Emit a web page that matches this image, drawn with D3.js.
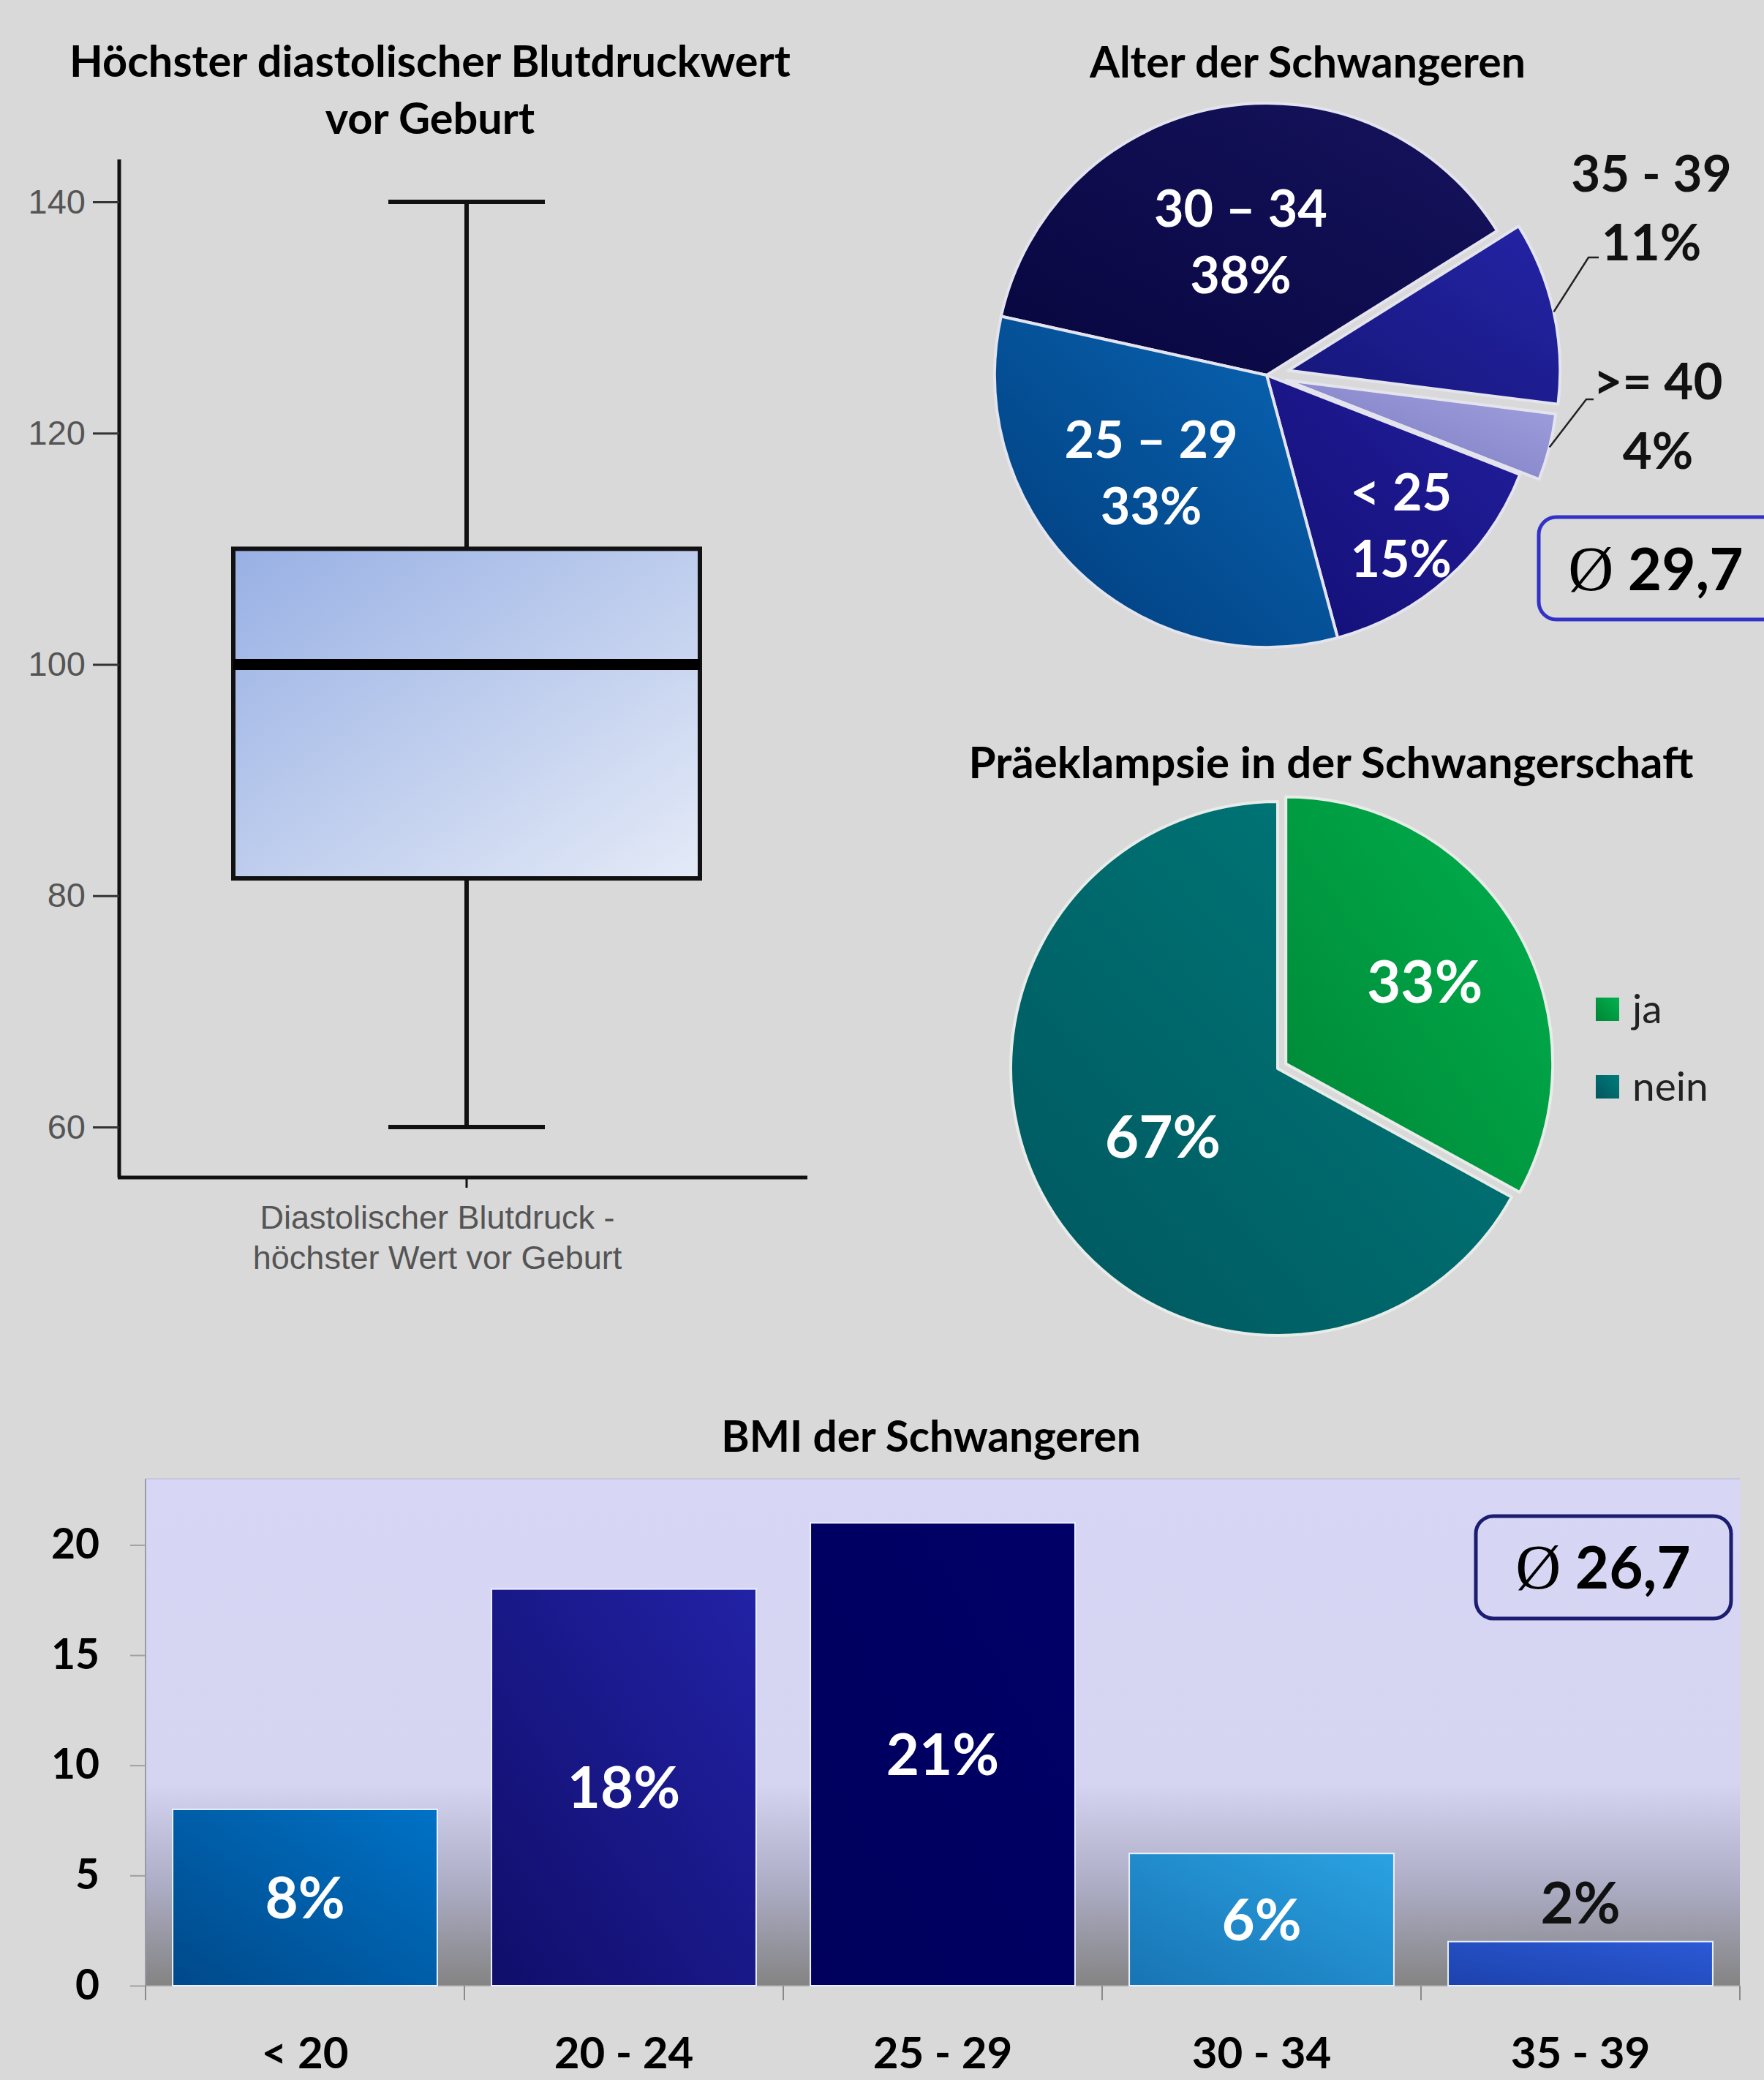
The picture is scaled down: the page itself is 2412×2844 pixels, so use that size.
<!DOCTYPE html>
<html>
<head>
<meta charset="utf-8">
<script src="https://cdn.jsdelivr.net/npm/d3@7"></script>
<style>
  body { margin: 0; background: #d9d9d9; }
  svg { display: block; }
</style>
</head>
<body>
<svg id="chart" width="2412" height="2844"></svg>
<script>
// ---- data ----
const bpTicks = [60, 80, 100, 120, 140];
const bpSummary = [60, 81.5, 100, 110, 140]; // min, q1, median, q3, max

const ageLabels = ['30 – 34', '35 - 39', '>= 40', '< 25', '25 – 29'];
const agePct = [38, 11, 4, 15, 33];
const ageMean = '29,7';

const preLabels = ['ja', 'nein'];
const prePct = [33, 67];

const bmiCats = ['< 20', '20 - 24', '25 - 29', '30 - 34', '35 - 39'];
const bmiCounts = [8, 18, 21, 6, 2];
const bmiPctLabels = ['8%', '18%', '21%', '6%', '2%'];
const bmiTicks = [0, 5, 10, 15, 20];
const bmiMean = '26,7';

// ---- setup ----
const svg = d3.select('#chart');
const defs = svg.append('defs');
const TITLE_FONT = 'Lato, "Open Sans", sans-serif';

svg.append('rect').attr('width', 2412).attr('height', 2844).attr('fill', '#d9d9d9');

// diagonal gradient helper (dark lower-left -> light upper-right)
function diagGrad (id, c0, c1, dir) {
  const g = defs.append('linearGradient').attr('id', id);
  if (dir === 'tlbr') g.attr('x1', 0).attr('y1', 0).attr('x2', 1).attr('y2', 1);
  else g.attr('x1', 0).attr('y1', 1).attr('x2', 1).attr('y2', 0);
  g.append('stop').attr('offset', '0%').attr('stop-color', c0);
  g.append('stop').attr('offset', '100%').attr('stop-color', c1);
  return 'url(#' + id + ')';
}

function title (txt, x, y, size) {
  svg.append('text')
    .attr('x', x).attr('y', y)
    .attr('text-anchor', 'middle')
    .attr('font-family', TITLE_FONT)
    .attr('font-weight', 700)
    .attr('font-size', size)
    .attr('fill', '#000')
    .text(txt);
}

// ============ box plot ============
title('Höchster diastolischer Blutdruckwert', 588, 105, 59.5);
title('vor Geburt', 588, 183, 59.5);

const bpX0 = 163, bpX1 = 1104, bpTop = 218, bpBottom = 1610;
const yBp = d3.scaleLinear().domain([60, 140]).range([1541, 276]);
const bpG = svg.append('g');

// axes
bpG.append('line').attr('x1', bpX0).attr('x2', bpX0).attr('y1', bpTop).attr('y2', bpBottom)
  .attr('stroke', '#111').attr('stroke-width', 5);
bpG.append('line').attr('x1', bpX0 - 2).attr('x2', bpX1).attr('y1', bpBottom).attr('y2', bpBottom)
  .attr('stroke', '#111').attr('stroke-width', 5);

const bpAxis = bpG.append('g').attr('transform', `translate(${bpX0},0)`)
  .call(d3.axisLeft(yBp).tickValues(bpTicks).tickSize(36).tickPadding(10));
bpAxis.select('.domain').remove();
bpAxis.selectAll('.tick line').attr('stroke', '#333').attr('stroke-width', 3);
bpAxis.selectAll('.tick text')
  .attr('font-family', '"Liberation Sans", Arial, sans-serif')
  .attr('font-size', 47).attr('fill', '#555');

const bpCx = 638, boxHalf = 319, capHalf = 107;
const boxFill = diagGrad('boxGrad', '#98b0e4', '#e4eaf7', 'tlbr');
const [bMin, bQ1, bMed, bQ3, bMax] = bpSummary;

bpG.append('line').attr('x1', bpCx).attr('x2', bpCx).attr('y1', yBp(bMax)).attr('y2', yBp(bQ3))
  .attr('stroke', '#111').attr('stroke-width', 6);
bpG.append('line').attr('x1', bpCx).attr('x2', bpCx).attr('y1', yBp(bQ1)).attr('y2', yBp(bMin))
  .attr('stroke', '#111').attr('stroke-width', 6);
[bMin, bMax].forEach(v => {
  bpG.append('line').attr('x1', bpCx - capHalf).attr('x2', bpCx + capHalf)
    .attr('y1', yBp(v)).attr('y2', yBp(v))
    .attr('stroke', '#111').attr('stroke-width', 6);
});
bpG.append('rect')
  .attr('x', bpCx - boxHalf).attr('width', boxHalf * 2)
  .attr('y', yBp(bQ3)).attr('height', yBp(bQ1) - yBp(bQ3))
  .attr('fill', boxFill).attr('stroke', '#111').attr('stroke-width', 6);
bpG.append('line').attr('x1', bpCx - boxHalf).attr('x2', bpCx + boxHalf)
  .attr('y1', yBp(bMed)).attr('y2', yBp(bMed))
  .attr('stroke', '#000').attr('stroke-width', 15);
bpG.append('line').attr('x1', bpCx).attr('x2', bpCx).attr('y1', bpBottom).attr('y2', bpBottom + 14)
  .attr('stroke', '#111').attr('stroke-width', 3);

const bpLab = bpG.append('text').attr('text-anchor', 'middle')
  .attr('font-family', '"Liberation Sans", Arial, sans-serif')
  .attr('font-size', 45).attr('fill', '#555');
bpLab.append('tspan').attr('x', 598).attr('y', 1680).text('Diastolischer Blutdruck -');
bpLab.append('tspan').attr('x', 598).attr('y', 1735).text('höchster Wert vor Geburt');

// ============ pie: Alter ============
title('Alter der Schwangeren', 1788, 106, 59);

const ageCx = 1732, ageCy = 513, ageR = 372;
const ageColors = [
  ['#07063e', '#16135e'],
  ['#16167a', '#2424a6'],
  ['#7474bc', '#a4a4e2'],
  ['#130f76', '#221e9c'],
  ['#003c7a', '#0a66b6']
];
const ageExplode = [0, 30, 27, 0, 0];
// label placement (layout only)
const ageLabelR = [0.5, null, null, 0.74, 0.56];
const ageLabelShift = [[-4, 0], null, null, [0, 0], [-14, -18]];
const ageOuter = {
  1: { elbow: [440, -161], end: [454, -161], tx: 526, ty1: 262, ty2: 356 },
  2: { elbow: [437, 33], end: [447, 33], tx: 535, ty1: 546, ty2: 641 }
};

const agePie = d3.pie().sort(null)
  .startAngle(-77.5 * Math.PI / 180)
  .endAngle(-77.5 * Math.PI / 180 + 2 * Math.PI);
const ageArcs = agePie(agePct);
const ageArc = d3.arc().innerRadius(0).outerRadius(ageR);
const ageG = svg.append('g').attr('transform', `translate(${ageCx},${ageCy})`);

ageArcs.forEach((a, i) => {
  const mid = (a.startAngle + a.endAngle) / 2;
  const ox = Math.sin(mid) * ageExplode[i];
  const oy = -Math.cos(mid) * ageExplode[i];
  const fill = diagGrad('ageGrad' + i, ageColors[i][0], ageColors[i][1]);
  ageG.append('path')
    .attr('d', ageArc(a))
    .attr('transform', `translate(${ox},${oy})`)
    .attr('fill', fill)
    .attr('stroke', '#e4e4ee').attr('stroke-width', 4).attr('stroke-linejoin', 'round');

  const parts = ageLabels[i];
  if (ageLabelR[i] !== null) {
    const lr = ageR * ageLabelR[i];
    const lx = Math.sin(mid) * lr + ageLabelShift[i][0];
    const ly = -Math.cos(mid) * lr + ageLabelShift[i][1];
    const t = ageG.append('text').attr('text-anchor', 'middle')
      .attr('font-family', TITLE_FONT).attr('font-weight', 700)
      .attr('font-size', 70).attr('fill', '#fff');
    t.append('tspan').attr('x', lx).attr('y', ly - 20).text(parts);
    t.append('tspan').attr('x', lx).attr('y', ly + 71).text(agePct[i] + '%');
  } else {
    const o = ageOuter[i];
    const sx = Math.sin(mid) * (ageR + ageExplode[i]);
    const sy = -Math.cos(mid) * (ageR + ageExplode[i]);
    ageG.append('polyline')
      .attr('points', [[sx, sy], o.elbow, o.end].map(p => p.join(',')).join(' '))
      .attr('fill', 'none').attr('stroke', '#222').attr('stroke-width', 2.5);
    const t = ageG.append('text').attr('text-anchor', 'middle')
      .attr('font-family', TITLE_FONT).attr('font-weight', 700)
      .attr('font-size', 69).attr('fill', '#111');
    t.append('tspan').attr('x', o.tx).attr('y', o.ty1 - ageCy).text(parts);
    t.append('tspan').attr('x', o.tx).attr('y', o.ty2 - ageCy).text(agePct[i] + '%');
  }
});

function meanBox (x, y, w, h, stroke, txt, cx, baseline) {
  svg.append('rect').attr('x', x).attr('y', y).attr('width', w).attr('height', h)
    .attr('rx', 24).attr('fill', 'none').attr('stroke', stroke).attr('stroke-width', 5);
  const t = svg.append('text').attr('x', cx).attr('y', baseline).attr('text-anchor', 'middle').attr('fill', '#000');
  t.append('tspan').attr('font-family', '"Liberation Serif", "DejaVu Serif", serif')
    .attr('font-size', 86).text('Ø');
  t.append('tspan').attr('font-family', TITLE_FONT).attr('font-weight', 700)
    .attr('font-size', 80).text(' ' + txt);
}
meanBox(2104, 707, 340, 140, '#3232c8', ageMean, 2264, 807);

// ============ pie: Präeklampsie ============
title('Präeklampsie in der Schwangerschaft', 1820, 1064, 60);

const preCx = 1747, preCy = 1461, preR = 365;
const preColors = [['#008536', '#00b24e'], ['#00565f', '#007c7a']];
const preExplode = [13, 0];
const preLabelR = [0.64, 0.5];
const preArcs = d3.pie().sort(null)(prePct);
const preArc = d3.arc().innerRadius(0).outerRadius(preR);
const preG = svg.append('g').attr('transform', `translate(${preCx},${preCy})`);

preArcs.forEach((a, i) => {
  const mid = (a.startAngle + a.endAngle) / 2;
  const ox = Math.sin(mid) * preExplode[i];
  const oy = -Math.cos(mid) * preExplode[i];
  const fill = diagGrad('preGrad' + i, preColors[i][0], preColors[i][1]);
  preG.append('path')
    .attr('d', preArc(a))
    .attr('transform', `translate(${ox},${oy})`)
    .attr('fill', fill)
    .attr('stroke', '#e8ece8').attr('stroke-width', 4).attr('stroke-linejoin', 'round');
  const lr = preR * preLabelR[i];
  preG.append('text')
    .attr('x', Math.sin(mid) * lr).attr('y', -Math.cos(mid) * lr)
    .attr('dy', '0.36em')
    .attr('text-anchor', 'middle')
    .attr('font-family', TITLE_FONT).attr('font-weight', 700)
    .attr('font-size', 80).attr('fill', '#fff')
    .text(prePct[i] + '%');
});

// legend
const legY = d3.scalePoint().domain(preLabels).range([1380, 1486]);
preLabels.forEach((lab, i) => {
  const y = legY(lab);
  svg.append('rect').attr('x', 2182).attr('y', y - 16).attr('width', 32).attr('height', 32)
    .attr('fill', diagGrad('legGrad' + i, preColors[i][0], preColors[i][1]));
  svg.append('text').attr('x', 2232).attr('y', y + 19)
    .attr('font-family', TITLE_FONT).attr('font-size', 55).attr('fill', '#222')
    .text(lab);
});

// ============ bar chart: BMI ============
title('BMI der Schwangeren', 1273, 1985, 58.5);

const plotL = 199, plotR = 2379, plotT = 2022, plotB = 2715;
const xBmi = d3.scaleBand().domain(bmiCats).range([plotL, plotR])
  .paddingInner(0.17).paddingOuter(0.085);
const yBmi = d3.scaleLinear().domain([0, 23]).range([plotB, plotT]);

const bgGrad = defs.append('linearGradient').attr('id', 'plotBg')
  .attr('x1', 0).attr('y1', 0).attr('x2', 0).attr('y2', 1);
[['0%', '#d7d7f5'], ['60%', '#d5d5f2'], ['80%', '#adadc6'], ['100%', '#848484']].forEach(s => {
  bgGrad.append('stop').attr('offset', s[0]).attr('stop-color', s[1]);
});
svg.append('rect').attr('x', plotL).attr('y', plotT)
  .attr('width', plotR - plotL).attr('height', plotB - plotT)
  .attr('fill', 'url(#plotBg)');
svg.append('line').attr('x1', plotL).attr('x2', plotR).attr('y1', plotT).attr('y2', plotT)
  .attr('stroke', '#c8c8dc').attr('stroke-width', 2);
svg.append('line').attr('x1', plotL).attr('x2', plotL).attr('y1', plotT).attr('y2', plotB + 20)
  .attr('stroke', '#9a9aa8').attr('stroke-width', 2);

const bmiColors = [
  ['#00498a', '#0072c6'],
  ['#100e6a', '#2222a6'],
  ['#00005c', '#000068'],
  ['#1874b4', '#2aa2e2'],
  ['#1c42ac', '#2c5ad6']
];

const yAxisG = svg.append('g').attr('transform', `translate(${plotL},0)`)
  .call(d3.axisLeft(yBmi).tickValues(bmiTicks).tickSize(21).tickPadding(42));
yAxisG.select('.domain').remove();
yAxisG.selectAll('.tick line').attr('stroke', '#a0a0a0').attr('stroke-width', 2);
yAxisG.selectAll('.tick text')
  .attr('font-family', TITLE_FONT).attr('font-weight', 700)
  .attr('font-size', 57).attr('fill', '#000');

// x axis baseline and band separators
svg.append('line').attr('x1', plotL).attr('x2', plotR).attr('y1', plotB).attr('y2', plotB)
  .attr('stroke', '#a0a0a0').attr('stroke-width', 2);
const sepG = svg.append('g');
d3.range(bmiCats.length + 1).forEach(i => {
  const x = plotL + xBmi.step() * i;
  sepG.append('line').attr('x1', x).attr('x2', x).attr('y1', plotB).attr('y2', plotB + 20)
    .attr('stroke', '#8a8a8a').attr('stroke-width', 2);
});

bmiCats.forEach((c, i) => {
  const v = bmiCounts[i];
  const x = xBmi(c), w = xBmi.bandwidth();
  svg.append('rect')
    .attr('x', x).attr('y', yBmi(v))
    .attr('width', w).attr('height', yBmi(0) - yBmi(v))
    .attr('fill', diagGrad('bmiGrad' + i, bmiColors[i][0], bmiColors[i][1]))
    .attr('stroke', '#e8f0ff').attr('stroke-width', 2);

  const inside = v >= 5;
  svg.append('text')
    .attr('x', x + w / 2)
    .attr('y', inside ? (yBmi(v) + yBmi(0)) / 2 : yBmi(v) - 53)
    .attr('dy', '0.36em')
    .attr('text-anchor', 'middle')
    .attr('font-family', TITLE_FONT).attr('font-weight', 700)
    .attr('font-size', 78).attr('fill', inside ? '#fff' : '#111')
    .text(bmiPctLabels[i]);

  svg.append('text')
    .attr('x', x + w / 2).attr('y', 2828)
    .attr('text-anchor', 'middle')
    .attr('font-family', TITLE_FONT).attr('font-weight', 700)
    .attr('font-size', 60).attr('fill', '#000')
    .text(c);
});

meanBox(2018, 2073, 349, 140, '#1c1c70', bmiMean, 2192, 2172);
</script>
</body>
</html>
